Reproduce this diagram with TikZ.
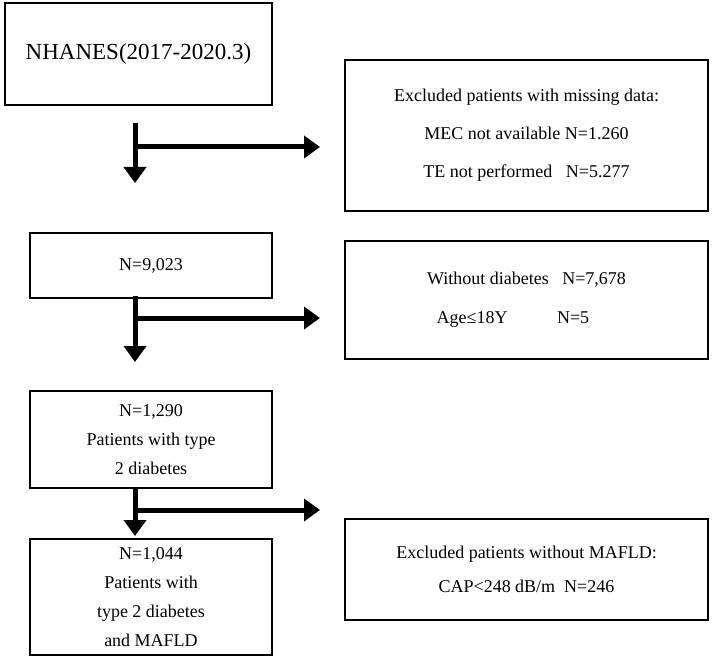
\documentclass[tikz,border=0pt]{standalone}
\usepackage{fontspec}
\setmainfont{Liberation Serif}
\usetikzlibrary{arrows.meta}
\tikzset{
  flowbox/.style={draw,line width=2.2pt,align=center,inner sep=0pt,font=\fontsize{18}{31}\selectfont},
  flowarrow/.style={line width=5pt,-{Triangle[length=16pt,width=22pt]}}
}
\begin{document}
\begin{tikzpicture}[x=1pt,y=-1pt]
\useasboundingbox (0,0) rectangle (716,661);
% left column
\node[flowbox,minimum width=267pt,minimum height=102pt,font=\fontsize{23}{26}\selectfont] (start) at (138.5,54) {NHANES(2017-2020.3)};
\node[flowbox,minimum width=242pt,minimum height=65pt] (n9023) at (151,265.5) {N=9,023};
\node[flowbox,minimum width=242pt,minimum height=97pt,font=\fontsize{18}{29}\selectfont] (n1290) at (151,439.5) {N=1,290\\Patients with type\\2 diabetes};
\node[flowbox,minimum width=242pt,minimum height=116pt,font=\fontsize{18}{29}\selectfont] (n1044) at (151,597) {N=1,044\\Patients with\\type 2 diabetes\\and MAFLD};
% right column
\node[flowbox,minimum width=363pt,minimum height=151pt,font=\fontsize{18}{38}\selectfont] (excl1) at (526.5,135.5) {Excluded patients with missing data:\\MEC not available N=1.260\\TE not performed~~~N=5.277};
\node[flowbox,minimum width=363pt,minimum height=118pt,font=\fontsize{18}{39}\selectfont] (excl2) at (526.5,300) {Without diabetes~~~N=7,678\\Age≤18Y~~~~~~~~~~~N=5~~~~~~~};
\node[flowbox,minimum width=363pt,minimum height=101pt,font=\fontsize{18}{34}\selectfont] (excl3) at (526.5,569.5) {Excluded patients without MAFLD:\\CAP<248 dB/m~~N=246};
% arrows
\coordinate (top1) at (135,123);
\coordinate (mid1) at (135,147);
\coordinate (end1) at (320,147);
\coordinate (top2) at (135,296);
\coordinate (mid2) at (135,318);
\coordinate (end2) at (320,318);
\coordinate (top3) at (135,487);
\coordinate (mid3) at (135,510);
\coordinate (end3) at (320,510);
\draw[flowarrow] (top1) -- (135,183);
\draw[flowarrow] (mid1) -- (end1);
\draw[flowarrow] (top2) -- (135,362);
\draw[flowarrow] (mid2) -- (end2);
\draw[flowarrow] (top3) -- (135,536);
\draw[flowarrow] (mid3) -- (end3);
\end{tikzpicture}
\end{document}
